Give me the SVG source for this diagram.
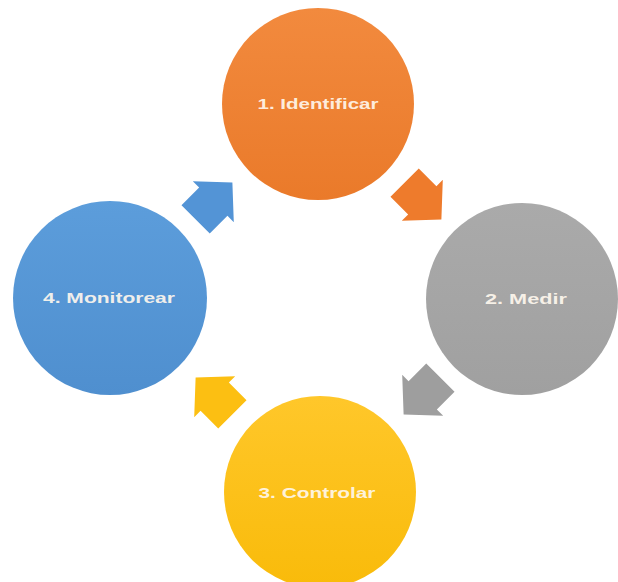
<svg xmlns="http://www.w3.org/2000/svg" width="618" height="582" viewBox="0 0 618 582">
<style>
.lbl{font-family:"Liberation Sans","DejaVu Sans",sans-serif;font-weight:bold;font-size:15px;fill:#fff8ee;fill-opacity:0.92;text-anchor:middle}
</style>
<defs>
<linearGradient id="gO" x1="0" y1="0" x2="0" y2="1"><stop offset="0" stop-color="#f28a3e"/><stop offset="1" stop-color="#ea7a2a"/></linearGradient>
<linearGradient id="gG" x1="0" y1="0" x2="0" y2="1"><stop offset="0" stop-color="#aaaaaa"/><stop offset="1" stop-color="#a0a0a0"/></linearGradient>
<linearGradient id="gY" x1="0" y1="0" x2="0" y2="1"><stop offset="0" stop-color="#ffc72a"/><stop offset="1" stop-color="#f9bb0a"/></linearGradient>
<linearGradient id="gB" x1="0" y1="0" x2="0" y2="1"><stop offset="0" stop-color="#5c9ddb"/><stop offset="1" stop-color="#4f8fcf"/></linearGradient>
<path id="arr" d="M-26,-20 L-1,-20 L-1,-29 L26,0 L-1,29 L-1,20 L-26,20 Z"/>
</defs>
<rect width="618" height="582" fill="#ffffff"/>
<g id="connectors">
<use href="#arr" transform="translate(423,201) rotate(45)" fill="#ee7b2c"/>
<use href="#arr" transform="translate(422,396) rotate(135)" fill="#9e9e9e"/>
<use href="#arr" transform="translate(214,396) rotate(-135)" fill="#fcbf12"/>
<use href="#arr" transform="translate(214,201) rotate(-45)" fill="#5394d6"/>
</g>
<g id="node1">
<circle cx="318" cy="104" r="96" fill="url(#gO)"/>
<text class="lbl" x="318" y="109" textLength="121" lengthAdjust="spacingAndGlyphs">1. Identificar</text>
</g>
<g id="node2">
<circle cx="522" cy="299" r="96" fill="url(#gG)"/>
<text class="lbl" x="526" y="304" textLength="82" lengthAdjust="spacingAndGlyphs">2. Medir</text>
</g>
<g id="node3">
<circle cx="320" cy="492" r="96" fill="url(#gY)"/>
<text class="lbl" x="317" y="498" textLength="117" lengthAdjust="spacingAndGlyphs">3. Controlar</text>
</g>
<g id="node4">
<circle cx="110" cy="298" r="97" fill="url(#gB)"/>
<text class="lbl" x="109" y="303" textLength="132" lengthAdjust="spacingAndGlyphs">4. Monitorear</text>
</g>
</svg>
